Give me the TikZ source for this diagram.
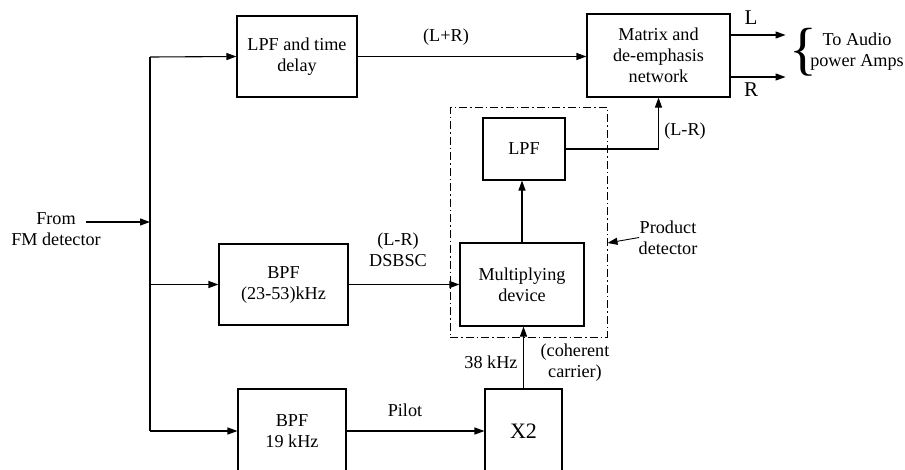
\documentclass[tikz,border=0pt]{standalone}
\usepackage{fontspec}
\setmainfont{Liberation Serif}
\usetikzlibrary{arrows.meta,calc}
\begin{document}
\begin{tikzpicture}[x=1pt,y=-1pt,
  font=\fontsize{18.2}{21}\selectfont,
  line width=1.1pt,
  blk/.style={draw,line width=1.1pt,inner sep=0pt,align=center},
  lbl/.style={inner sep=0pt,align=center},
  arr/.style={-{Triangle[length=10pt,width=7pt]}},
  pdbox/.style={draw,line width=1pt,inner sep=0pt,
    dash pattern=on 8pt off 3pt on 1.5pt off 3pt}]
\useasboundingbox (0,0) rectangle (905,469);
\clip (0,0) rectangle (905,469);

% blocks
\node[blk,minimum width=120,minimum height=81] (lpfd) at (297,56.5) {LPF and time\\delay};
\node[blk,minimum width=143,minimum height=83] (mtx) at (658.5,55.5) {Matrix and\\de-emphasis\\network};
\node[blk,minimum width=82,minimum height=62] (lpf) at (524,149) {LPF};
\node[blk,minimum width=124,minimum height=83] (mult) at (522,284.5) {Multiplying\\device};
\node[blk,minimum width=129,minimum height=81] (bpfa) at (283.5,284.5) {BPF\\(23-53)kHz};
\node[blk,minimum width=108,minimum height=84] (bpfb) at (292,431) {BPF\\19 kHz};
\node[blk,minimum width=77,minimum height=84,font=\fontsize{22}{24}\selectfont] (dbl) at (523.5,431) {X2};

% product detector enclosure
\node[pdbox,minimum width=157,minimum height=230] (pd) at (528.5,222) {};

% input bus
\node[lbl] (src) at (56,229) {From\\FM detector};
\coordinate (in) at (86,222);
\coordinate (bustop) at (150,57);
\coordinate (busbot) at (150,431);
\draw (bustop) -- (busbot);
\draw[arr] (in) -- (in -| bustop);
\draw[arr] (bustop) -- (lpfd.west);
\draw[arr] (bpfa.west -| bustop) -- (bpfa.west);
\draw[arr] (busbot) -- (bpfb.west);

% signal paths
\draw[arr] (lpfd.east) -- (lpfd.east -| mtx.west);
\draw[arr] (bpfa.east) -- (mult.west);
\draw[arr] (bpfb.east) -- (dbl.west);
\draw[arr] (dbl.north) -- (dbl.north |- mult.south);
\draw[arr] (mult.north) -- (mult.north |- lpf.south);
\draw[arr] (lpf.east) -| (mtx.south);

% outputs
\coordinate (lout) at ([xshift=55]$(mtx.east)+(0,-20.5)$);
\coordinate (rout) at ([xshift=55]$(mtx.east)+(0,21.5)$);
\draw[arr] (mtx.east |- lout) -- (lout);
\draw[arr] (mtx.east |- rout) -- (rout);
\node[lbl,font=\fontsize{21}{21}\selectfont] (lname) at (751,18) {L};
\node[lbl,font=\fontsize{21}{21}\selectfont] (rname) at (751,90) {R};
\node[lbl,font=\fontsize{58}{58}\selectfont] (brace) at (803,52.5) {\{};
\node[lbl] (amps) at (857,51.5) {To Audio\\power Amps};

% labels
\node[lbl] (sum) at (446,37) {(L+R)};
\node[lbl] (diff) at (685,131) {(L-R)};
\node[lbl] (dsb) at (398,250) {(L-R)\\DSBSC};
\node[lbl] (pilot) at (405,410) {Pilot};
\node[lbl] (f38) at (491,362) {38 kHz};
\node[lbl] (coh) at (575,363) {(coherent\\carrier)};
\node[lbl] (pdname) at (668,237.5) {Product\\detector};
\draw[arr,line width=0.9pt] ([xshift=1]pdname.west) -- ([yshift=-21]pd.east);
\end{tikzpicture}
\end{document}
